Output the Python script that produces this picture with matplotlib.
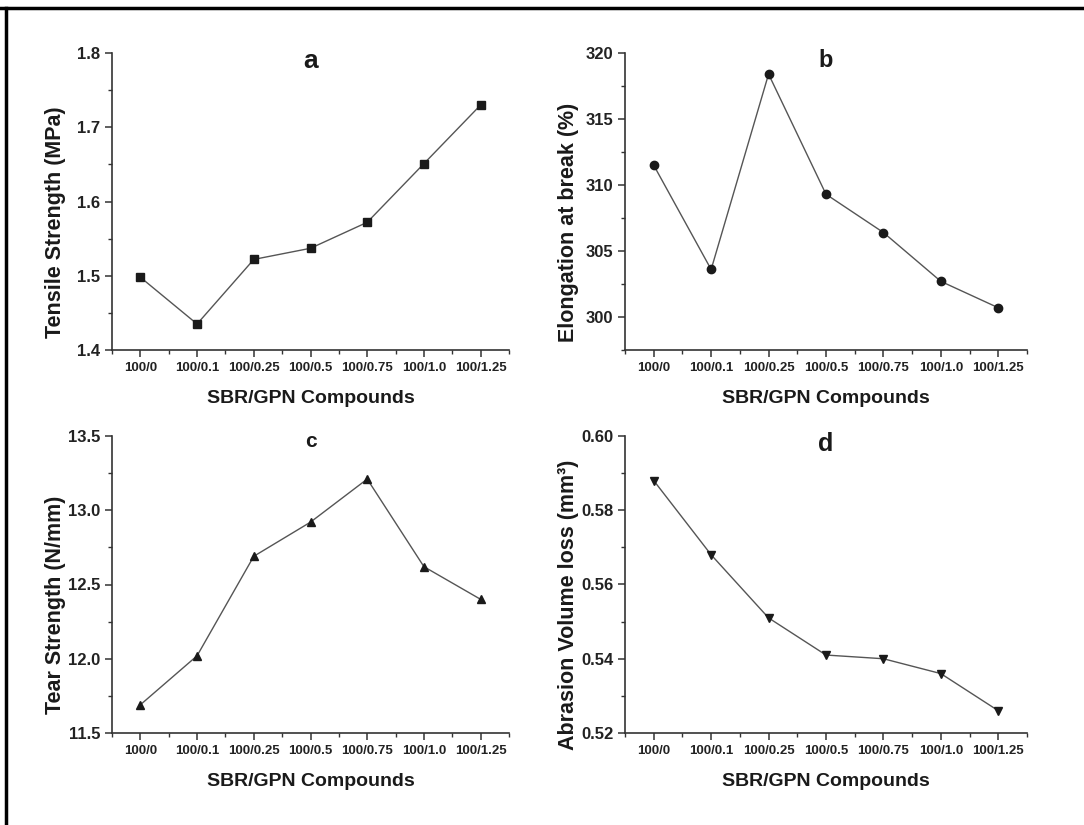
import numpy as np
import matplotlib
matplotlib.use("Agg")
import matplotlib.pyplot as plt
from matplotlib.lines import Line2D
from matplotlib.ticker import MultipleLocator

plt.rcParams['font.family'] = ['Liberation Sans', 'DejaVu Sans']

# data
compounds = ['100/0', '100/0.1', '100/0.25', '100/0.5', '100/0.75', '100/1.0', '100/1.25']
tensile = [1.498, 1.435, 1.522, 1.537, 1.572, 1.651, 1.730]
elongation = [311.5, 303.6, 318.4, 309.3, 306.4, 302.7, 300.7]
tear = [11.69, 12.02, 12.69, 12.92, 13.21, 12.62, 12.40]
abrasion = [0.588, 0.568, 0.551, 0.541, 0.540, 0.536, 0.526]

fig = plt.figure(figsize=(10.84, 8.25), dpi=100)

# axes boxes in pixels: left, top, right, bottom
boxes = [(112, 53, 509, 350), (625, 53, 1027, 350),
         (112, 436, 509, 733), (625, 436, 1027, 733)]
W, H = 1084, 825

panels = [
    ('a', tensile, 'Tensile Strength (MPa)', (1.4, 1.8), 0.1, 0.05, 's', '%.1f', 19),
    ('b', elongation, 'Elongation at break (%)', (297.5, 320), 5, 2.5, 'o', '%d', 17),
    ('c', tear, 'Tear Strength (N/mm)', (11.5, 13.5), 0.5, 0.25, '^', '%.1f', 15),
    ('d', abrasion, 'Abrasion Volume loss (mm\u00b3)', (0.52, 0.60), 0.02, 0.01, 'v', '%.2f', 18),
]

x = np.arange(len(compounds))
for (l, t, r, b), (tag, vals, ylab, ylim, major, minor, mk, fmt, tsize) in zip(boxes, panels):
    ax = fig.add_axes([l / W, 1 - b / H, (r - l) / W, (b - t) / H])
    ax.plot(x, vals, color='#555555', lw=1.0, marker=mk, ms=6,
            mfc='#1a1a1a', mec='#1a1a1a')
    ax.set_xlim(-0.5, len(compounds) - 0.5)
    ax.set_ylim(*ylim)
    ax.set_xticks(x)
    ax.set_xticklabels(compounds)
    ax.xaxis.set_minor_locator(MultipleLocator(0.5))
    ax.yaxis.set_major_locator(MultipleLocator(major))
    ax.yaxis.set_minor_locator(MultipleLocator(minor))
    ax.yaxis.set_major_formatter(plt.FormatStrFormatter(fmt))
    for s in ['top', 'right']:
        ax.spines[s].set_visible(False)
    for s in ['left', 'bottom']:
        ax.spines[s].set_color('#333333')
        ax.spines[s].set_linewidth(1.2)
    ax.tick_params(which='major', direction='out', length=5, width=1.1, color='#333333')
    ax.tick_params(which='minor', direction='out', length=3, width=1.0, color='#333333')
    for lab in ax.get_xticklabels():
        lab.set_fontweight('bold')
        lab.set_fontsize(9.5)
        lab.set_color('#222222')
    for lab in ax.get_yticklabels():
        lab.set_fontweight('bold')
        lab.set_fontsize(12)
        lab.set_color('#222222')
    ax.set_xlabel('SBR/GPN Compounds', fontsize=14, fontweight='bold', color='#1a1a1a', labelpad=12)
    ax.set_ylabel(ylab, fontsize=15.5, fontweight='bold', color='#1a1a1a')
    ax.yaxis.set_label_coords(-0.115, 0.43)
    ax.text(0.5, 1.015, tag, transform=ax.transAxes, ha='center', va='top',
            fontsize=tsize, fontweight='bold', color='#1a1a1a')

# frame lines of the original picture (top and left only)
fig.add_artist(Line2D([0, 1], [1 - 8 / H, 1 - 8 / H], color='black', lw=2.5))
fig.add_artist(Line2D([6 / W, 6 / W], [0, 1 - 8 / H], color='black', lw=2.5))

fig.savefig('out.png', dpi=100)
